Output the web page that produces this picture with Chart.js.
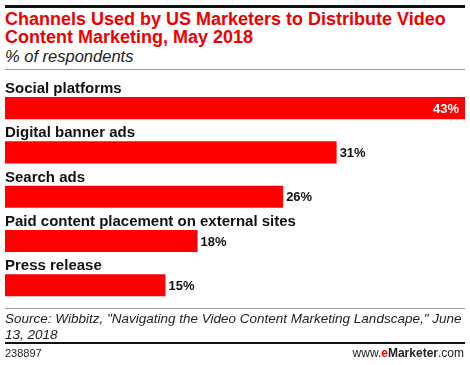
<!DOCTYPE html>
<html>
<head>
<meta charset="utf-8">
<script src="https://cdn.jsdelivr.net/npm/chart.js@4"></script>
<style>
  body { margin: 0; background: #fff; font-family: "Liberation Sans", Arial, sans-serif; }
  #wrap { position: relative; width: 470px; height: 365px; overflow: hidden; }
  #chart { position: absolute; left: 0; top: 0; }
  .rule { position: absolute; left: 5px; width: 460px; }
  #title { position: absolute; left: 5px; top: 10px; color: #ee0000; font-weight: bold; font-size: 18px; line-height: 18px; white-space: nowrap; }
  #sub { position: absolute; left: 5px; top: 47px; font-style: italic; font-size: 16.5px; color: #222; }
  #source { position: absolute; left: 5px; top: 311px; font-style: italic; font-size: 13.5px; line-height: 16px; color: #222; white-space: nowrap; }
  #id { position: absolute; left: 5px; top: 347px; font-size: 11px; color: #222; }
  #site { position: absolute; right: 6px; top: 346px; font-size: 12px; color: #222; }
</style>
</head>
<body>
<div id="wrap">
  <div class="rule" style="top:5px;height:3px;background:#111"></div>
  <div id="title">Channels Used by US Marketers to Distribute Video<br>Content Marketing, May 2018</div>
  <div id="sub">% of respondents</div>
  <div class="rule" style="top:69px;height:1px;background:#999"></div>
  <canvas id="chart" width="470" height="365"></canvas>
  <div class="rule" style="top:308px;height:1px;background:#999"></div>
  <div id="source">Source: Wibbitz, "Navigating the Video Content Marketing Landscape," June<br>13, 2018</div>
  <div class="rule" style="top:342px;height:2px;background:#111"></div>
  <div id="id">238897</div>
  <div id="site">www.<span style="color:#ee0000;font-weight:bold">e</span><b>Marketer</b>.com</div>
</div>
<script>
const channels = ["Social platforms", "Digital banner ads", "Search ads", "Paid content placement on external sites", "Press release"];
const respondents = [43, 31, 26, 18, 15];

// labels above each bar and values at bar end
const barText = {
  id: "barText",
  afterDatasetsDraw(chart) {
    const ctx = chart.ctx;
    const meta = chart.getDatasetMeta(0);
    ctx.save();
    meta.data.forEach((bar, i) => {
      const top = bar.y - bar.height / 2;
      ctx.font = "bold 15px 'Liberation Sans', Arial, sans-serif";
      ctx.fillStyle = "#111";
      ctx.textAlign = "left";
      ctx.textBaseline = "alphabetic";
      ctx.fillText(channels[i], 5, top - 4);

      ctx.font = "bold 13px 'Liberation Sans', Arial, sans-serif";
      ctx.textBaseline = "middle";
      const txt = respondents[i] + "%";
      if (i === 0) {
        ctx.fillStyle = "#fff";
        ctx.textAlign = "right";
        ctx.fillText(txt, bar.x - 6, bar.y + 1);
      } else {
        ctx.fillStyle = "#111";
        ctx.textAlign = "left";
        ctx.fillText(txt, bar.x + 3, bar.y + 1);
      }
    });
    ctx.restore();
  }
};

new Chart(document.getElementById("chart"), {
  type: "bar",
  data: {
    labels: channels,
    datasets: [{
      data: respondents,
      backgroundColor: "#ff0000",
      borderWidth: 0,
      categoryPercentage: 1,
      barPercentage: 0.5
    }]
  },
  options: {
    indexAxis: "y",
    responsive: false,
    animation: false,
    layout: { padding: { left: 5, right: 5, top: 86, bottom: 57.6 } },
    plugins: { legend: { display: false }, tooltip: { enabled: false } },
    scales: {
      x: { display: false, min: 0, max: 43 },
      y: { display: false }
    }
  },
  plugins: [barText]
});
</script>
</body>
</html>
